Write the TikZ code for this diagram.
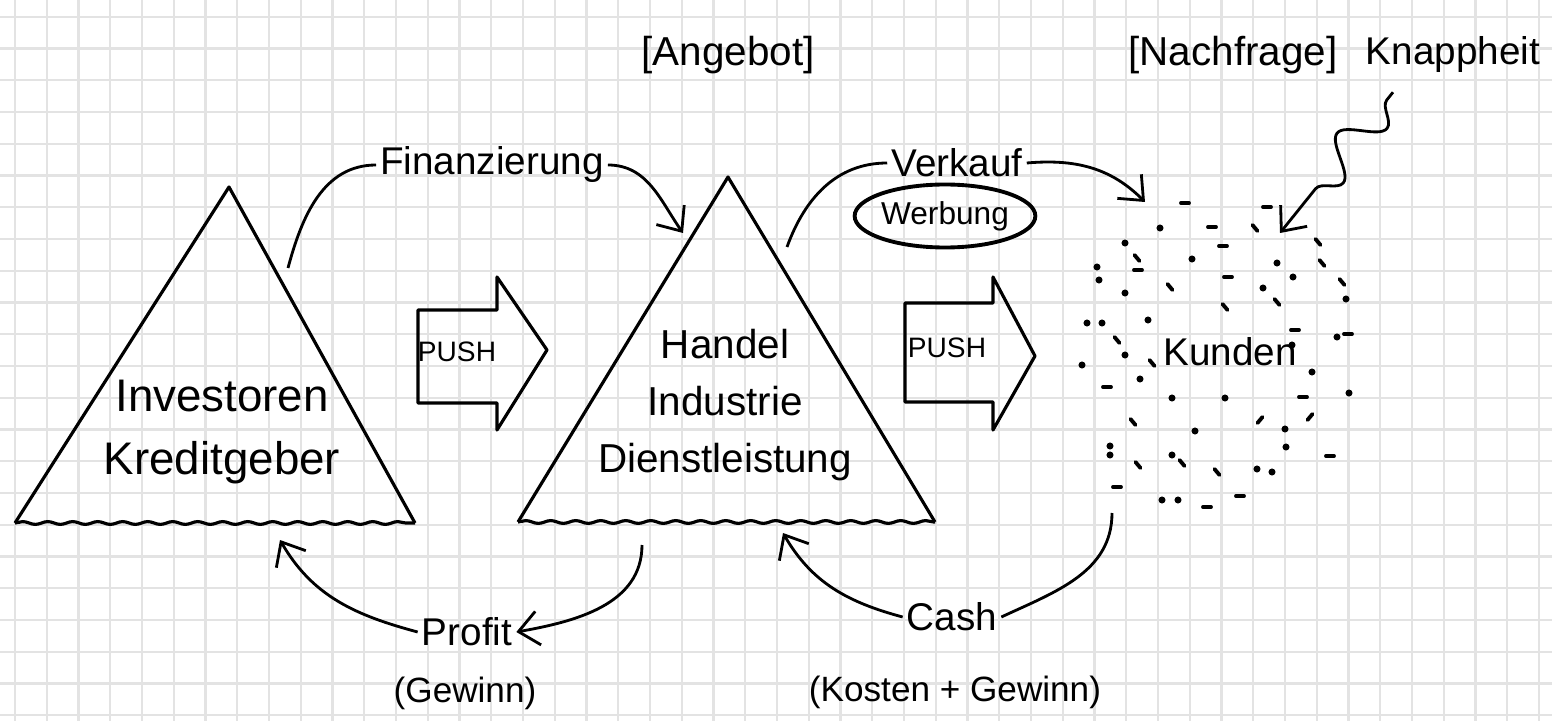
\documentclass[tikz,border=0pt]{standalone}
\usepackage{fontspec}
\setmainfont{Liberation Sans}
\usetikzlibrary{arrows.meta,decorations.pathmorphing,shapes.geometric,calc}

\begin{document}
\begin{tikzpicture}[
    gridline/.style={draw=black!11, line width=0.6pt},
    tri/.style={line width=0.9pt, line join=round},
    wavy/.style={line width=0.9pt, decorate, decoration={snake, amplitude=0.4pt, segment length=2.5mm}},
    big/.style={font=\fontsize{13}{18}\selectfont, align=center},
    mid/.style={font=\fontsize{11.5}{16.3}\selectfont, align=center},
    title/.style={font=\fontsize{11.5}{14}\selectfont, inner sep=1pt},
    lbl/.style={font=\fontsize{11}{13}\selectfont, inner sep=1pt},
    note/.style={font=\fontsize{10}{12}\selectfont, inner sep=1pt},
    push/.style={font=\fontsize{8}{9}\selectfont, inner sep=1pt},
    flow/.style={line width=0.8pt, -{Straight Barb[length=2mm, width=3.4mm]}},
    plain/.style={line width=0.8pt},
    crowd/.style={line width=1.1pt, line cap=round},
  ]
    \path[use as bounding box, fill=white] (0,0) rectangle (15.52,7.21);
    \foreach \i in {0,...,48} \draw[gridline] (0.15+0.3175*\i,0) -- (0.15+0.3175*\i,7.21);
    \foreach \k in {0,...,22} \draw[gridline] (0,7.043-0.3175*\k) -- (15.52,7.043-0.3175*\k);

    \coordinate (inv-top) at (2.29,5.34);
    \coordinate (inv-l) at (0.15,1.98);
    \coordinate (inv-r) at (4.15,1.98);
    \draw[tri] (inv-l) -- (inv-top) -- (inv-r);
    \draw[wavy] (inv-l) -- (inv-r);
    \node[big] (inv) at (2.22,2.89) {Investoren\\Kreditgeber};

    \coordinate (han-top) at (7.28,5.44);
    \coordinate (han-l) at (5.18,1.99);
    \coordinate (han-r) at (9.35,1.99);
    \draw[tri] (han-l) -- (han-top) -- (han-r);
    \draw[wavy] (han-l) -- (han-r);
    \node[mid] (han) at (7.25,3.16) {Handel\\Industrie\\Dienstleistung};

    \draw[tri] (4.18,4.11) -- (4.97,4.11) -- (4.97,4.44) -- (5.47,3.71) -- (4.97,2.91) -- (4.97,3.18) -- (4.18,3.18) -- cycle;
    \node[push] (push1) at (4.57,3.69) {PUSH};
    \draw[tri] (9.05,4.18) -- (9.93,4.18) -- (9.93,4.44) -- (10.35,3.65) -- (9.93,2.91) -- (9.93,3.19) -- (9.05,3.19) -- cycle;
    \node[push] (push2) at (9.47,3.73) {PUSH};

    \node[title] (angebot) at (7.28,6.66) {[Angebot]};
    \node[title] (nachfrage) at (12.33,6.66) {[Nachfrage]};
    \node[lbl] (knapp) at (14.53,6.66) {Knappheit};
    \node[lbl] (fin) at (4.92,5.56) {Finanzierung};
    \node[lbl] (verkauf) at (9.57,5.58) {Verkauf};
    \node[ellipse, draw, line width=1.1pt, font=\fontsize{9}{11}\selectfont, inner sep=0pt, minimum width=1.65cm, minimum height=0.63cm] (werbung) at (9.45,5.05) {Werbung};
    \node[lbl] (kunden) at (12.30,3.69) {Kunden};
    \node[lbl] (profit) at (4.67,0.89) {Profit};
    \node[note] (gewinn) at (4.65,0.28) {(Gewinn)};
    \node[lbl] (cash) at (9.52,1.04) {Cash};
    \node[note] (kosten) at (9.55,0.29) {(Kosten + Gewinn)};

    \foreach \x/\y in {11.60/4.93, 11.25/4.78, 11.92/4.62, 12.77/4.58, 10.97/4.54, 10.99/4.41, 12.93/4.44, 11.25/4.28, 12.63/4.33, 13.46/4.22, 10.87/3.98, 11.02/3.98, 11.48/4.01, 13.37/3.84, 12.92/3.76, 11.25/3.66, 10.82/3.56, 13.12/3.49, 11.40/3.42, 11.72/3.23, 12.25/3.23, 13.49/3.28, 11.95/2.90, 12.85/2.92, 11.10/2.66, 11.72/2.66, 12.86/2.74, 12.57/2.52, 12.72/2.49, 11.62/2.21, 11.78/2.21, 11.10/2.75}
        \fill (\x,\y) circle (1pt);
    \foreach \x/\y in {11.85/5.18, 12.67/5.14, 12.12/4.94, 12.23/4.75, 11.38/4.51, 12.28/4.44, 12.95/3.91, 13.48/3.87, 11.07/3.34, 13.03/3.24, 13.30/2.65, 11.17/2.34, 12.40/2.25, 12.07/2.14}
        \draw[crowd] (\x-0.04,\y) -- (\x+0.04,\y);
    \foreach \x/\y in {12.55/4.93, 13.18/4.79, 11.37/4.63, 13.22/4.58, 13.42/4.39, 11.70/4.34, 12.77/4.19, 12.25/4.14, 11.17/3.81, 11.52/3.58, 11.33/2.99, 11.82/2.58, 11.38/2.56, 12.17/2.49}
        \draw[crowd] (\x-0.025,\y+0.03) -- (\x+0.025,\y-0.03);
    \foreach \x/\y in {13.10/3.04, 12.60/3.01}
        \draw[crowd] (\x-0.025,\y-0.03) -- (\x+0.025,\y+0.03);

    \coordinate (inv-out) at (2.88,4.53);
    \coordinate (han-in) at (6.83,4.88);
    \coordinate (han-out) at (7.87,4.74);
    \coordinate (kunden-in) at (11.45,5.19);
    \coordinate (knapp-tip) at (12.80,4.88);
    \coordinate (han-down) at (6.42,1.76);
    \coordinate (inv-up) at (2.80,1.81);
    \coordinate (crowd-out) at (11.12,2.08);
    \coordinate (han-up) at (7.83,1.88);

    \draw[plain] (inv-out) to[out=75,in=180] (fin.west);
    \draw[flow] (fin.east) to[out=0,in=125] (han-in);
    \draw[plain] (han-out) to[out=70,in=180] (verkauf.west);
    \draw[flow] (verkauf.east) to[out=5,in=135] (kunden-in);
    \draw[flow, decorate, decoration={snake, amplitude=1.8mm, segment length=7mm, pre length=1mm, post length=3mm}] ($(knapp.south)+(-0.6,-0.15)$) -- (knapp-tip);
    \draw[flow] (han-down) to[out=-90,in=10] (profit.east);
    \draw[flow] (profit.west) to[out=165,in=-60] (inv-up);
    \draw[plain] (crowd-out) to[out=-90,in=25] (cash.east);
    \draw[flow] (cash.west) to[out=165,in=-60] (han-up);
  \end{tikzpicture}
\end{document}
